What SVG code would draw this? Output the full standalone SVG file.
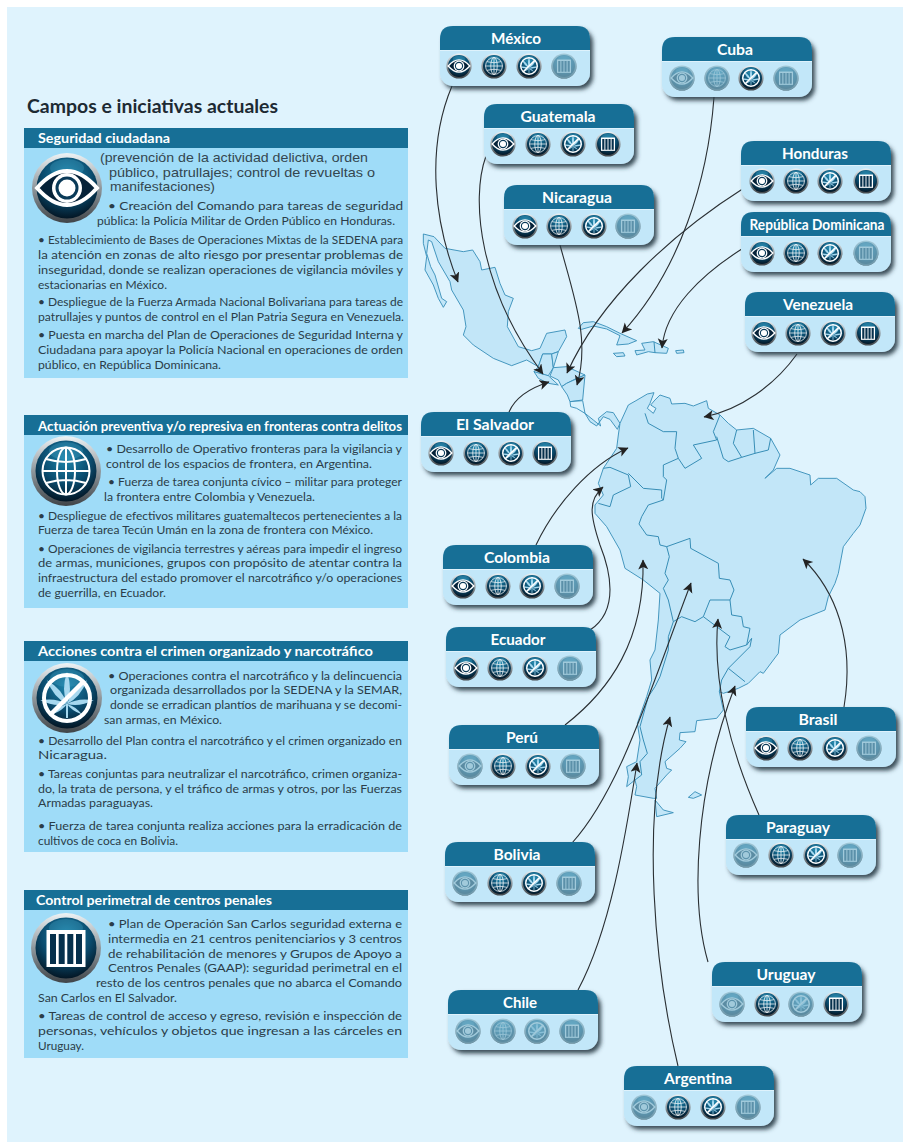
<svg xmlns="http://www.w3.org/2000/svg" width="903" height="1142" viewBox="0 0 903 1142">
<style>
text{font-family:Lato,"Open Sans","Liberation Sans",sans-serif}
.b{font-size:12px;fill:#2b3d48}
.l{font-size:12.8px;fill:#34464f;font-family:"Liberation Sans",Arial,sans-serif}
.h{font-size:13.5px;font-weight:700;fill:#fff}
.n{font-size:15.5px;font-weight:700;fill:#fff;text-anchor:middle}
.land{fill:#c2e6f8;stroke:#3a90ba;stroke-width:2.8;stroke-linejoin:round}
.bd{fill:none;stroke:#2c86b0;stroke-width:2.8;stroke-linejoin:round}
.c{fill:none;stroke:#2a2f33;stroke-width:1.1;marker-end:url(#arr)}
.panel{fill:#9fdcf8}
.bar{fill:#176f96}
</style>
<defs>
<linearGradient id="ring" x1="0" y1="0" x2="0" y2="1"><stop offset="0" stop-color="#eef3f5"/><stop offset=".5" stop-color="#8f979c"/><stop offset="1" stop-color="#3f4448"/></linearGradient>
<radialGradient id="core" cx=".5" cy=".3" r=".75"><stop offset="0" stop-color="#1e86ad"/><stop offset=".55" stop-color="#0a4a6c"/><stop offset="1" stop-color="#020d18"/></radialGradient>
<filter id="sh" x="-10%" y="-15%" width="125%" height="140%"><feDropShadow dx="3" dy="3.5" stdDeviation="2" flood-color="#2b3a44" flood-opacity=".9"/></filter>
<marker id="arr" markerUnits="userSpaceOnUse" markerWidth="12" markerHeight="11" refX="9.5" refY="5" orient="auto"><path d="M0,0 L10,5 L0,10 L2.5,5Z" fill="#222"/></marker>
<g id="ball"><circle r="35" fill="url(#ring)"/><circle r="30.5" fill="url(#core)"/><ellipse cy="-20" rx="17" ry="9" fill="#3f9dc0" opacity=".35"/></g>
<g id="eye"><use href="#ball"/><path d="M-30,0Q0,-34 30,0Q0,34 -30,0Z" fill="#062238" stroke="#fff" stroke-width="4"/><circle r="15" fill="#fff"/><circle r="11.5" fill="#0a3a58"/><circle r="8.5" fill="#fff"/></g>
<g id="globe"><use href="#ball"/><g fill="none" stroke="#fff" stroke-width="2"><circle r="23.5"/><ellipse rx="9" ry="23.5"/><path d="M0,-23.5V23.5M-23.5,0H23.5M-20,-12Q0,-6 20,-12M-20,12Q0,6 20,12"/></g></g>
<g id="leaf"><use href="#ball"/><g fill="#a6d8ef"><path d="M0,6Q-6,-8 0,-26Q6,-8 0,6Z"/><path d="M0,6Q-6,-8 0,-25Q6,-8 0,6Z" transform="rotate(40 0 6)"/><path d="M0,6Q-6,-8 0,-25Q6,-8 0,6Z" transform="rotate(-40 0 6)"/><path d="M0,6Q-5,-6 0,-21Q5,-6 0,6Z" transform="rotate(82 0 6)"/><path d="M0,6Q-5,-6 0,-21Q5,-6 0,6Z" transform="rotate(-82 0 6)"/><path d="M0,6Q-3,-2 0,-12Q3,-2 0,6Z" transform="rotate(125 0 6)"/><path d="M0,6Q-3,-2 0,-12Q3,-2 0,6Z" transform="rotate(-125 0 6)"/><rect x="-1" y="6" width="2" height="14"/></g><circle r="23" fill="none" stroke="#fff" stroke-width="4"/><path d="M-16,16L16,-16" stroke="#fff" stroke-width="4.5"/></g>
<g id="bars"><use href="#ball"/><rect x="-19.5" y="-18" width="39" height="37" fill="#fff"/><path d="M-13,-14V16M-4.3,-14V16M4.3,-14V16M13,-14V16" stroke="#06304c" stroke-width="6"/></g>
<g id="eye0"><use href="#eye"/><circle r="35" fill="#7db5cd" opacity=".72"/></g>
<g id="globe0"><use href="#globe"/><circle r="35" fill="#7db5cd" opacity=".72"/></g>
<g id="leaf0"><use href="#leaf"/><circle r="35" fill="#7db5cd" opacity=".72"/></g>
<g id="bars0"><use href="#bars"/><circle r="35" fill="#7db5cd" opacity=".72"/></g>
<g id="card"><rect width="150" height="60" rx="13" fill="#c2e7f9" filter="url(#sh)"/><path d="M0,24V13Q0,0 13,0H137Q150,0 150,13V24Z" fill="#176f96"/><path d="M0,24.5H150" stroke="#e4f5fc" stroke-width=".8"/></g>
</defs>
<rect width="903" height="1142" fill="#fff"/>
<rect x="7" y="7" width="896" height="1135" fill="#dff3fd"/>

<g id="map">
<g transform="translate(410 220) scale(.33333)">
<path class="land" d="M40,42L72,50L105,85L160,95L188,90L210,125L215,150L255,142L270,190L285,225L310,235L295,275L292,320L325,380L365,392L390,385L410,340L465,330L470,350L445,395L425,402L398,402L385,440L350,420L305,437L250,415L190,375L160,345L168,320L160,270L125,210L120,185L85,125L65,65L55,60L50,100L62,140L75,165L95,235L110,245L100,262L85,235L70,195L45,150L50,110L40,70Z"/>
<path class="land" d="M398,402L425,402L430,443L415,467L385,462L372,455L385,440Z"/>
<path class="land" d="M425,402L445,395L430,443Z"/>
<path class="land" d="M372,455L415,467L445,495L415,490L385,475Z"/>
<path class="land" d="M430,443L470,440L525,465L500,475L470,490L455,500L445,480L420,468Z"/>
<path class="land" d="M455,500L470,490L525,465L518,540L480,545L472,525Z"/>
<path fill="#d8f2fd" stroke="#3a90ba" stroke-width="2.8" d="M480,545L518,542L525,580L500,565L482,560Z"/>
<path class="land" d="M525,580L550,600L572,618L565,595L590,575L610,578L630,610L622,628L600,598L580,590L560,618L540,605Z"/>
<path class="land" d="M505,325L520,308L550,305L590,320L630,340L680,362L655,372L620,375L630,347L590,327L550,318L515,328Z"/>
<path class="land" d="M610,400L640,398L645,408L620,410Z"/>
<path class="land" d="M695,370L730,365L775,385L770,400L735,398L715,395L680,405L675,392L705,390Z"/>
<path class="bd" d="M732,365L735,398"/>
<path class="land" d="M797,392L820,390L822,398L800,400Z"/>
</g>
<g transform="translate(560 380) scale(.33333)">
<path class="land" d="M180,130L205,75L228,62L262,42L282,38L270,70L262,85L280,100L288,85L272,75L285,60L300,45L330,55L335,72L375,70L400,78L440,62L445,85L480,105L505,130L530,150L580,145L632,175L660,225L640,270L615,295L650,265L690,265L750,285L752,315L775,295L830,295L880,330L900,335L915,350L918,385L900,435L880,460L850,500L835,580L825,610L805,650L795,690L720,720L660,765L655,820L610,880L600,875L565,910L535,925L490,940L478,935L490,990L470,1015L410,1022L405,1055L360,1058L358,1080L378,1085L360,1105L315,1145L320,1165L335,1170L320,1185L285,1225L290,1255L280,1255L225,1245L230,1220L225,1200L200,1220L205,1190L200,1160L230,1145L240,1080L232,1030L260,950L275,900L270,840L285,810L295,720L300,640L250,600L195,565L180,510L140,440L105,400L105,375L130,345L115,310L130,265L170,205L175,165Z"/>
<path class="land" d="M285,1260L290,1310L340,1298L310,1290Z"/>
<path class="land" d="M385,1252L405,1235L425,1245L400,1255Z"/>
<path class="bd" d="M255,100L265,130L310,155L350,155L345,205L355,235L310,255L310,290L320,300L310,360M355,235L375,265L425,235L400,195L470,180L460,155L480,105M470,170L490,235L505,245L545,232L520,190L530,150M545,232L585,220L580,150M585,220L625,210L632,175"/>
<path class="bd" d="M130,265L150,262L205,285L212,320L160,345L150,380L115,370"/>
<path class="bd" d="M205,280L250,325L305,330L305,355L310,360L265,375L245,410L237,432L260,465L295,470L300,495L320,500L390,475L392,505L475,550L478,595L510,600L522,630L510,660L450,660L430,710L405,725L365,710L340,725M320,500L328,530L315,580L325,600L310,625L325,660L340,725L325,770L325,810L300,890L285,920L265,950L240,1040L250,1080L262,1120L240,1145L245,1185L225,1200"/>
<path class="bd" d="M430,710L470,740L510,770L495,800L510,810L560,795L570,745L550,740L545,710L515,705L510,660"/>
<path class="bd" d="M560,795L575,775L570,800L515,855L505,865L555,905M505,865L485,900L478,935"/>
</g>
</g>

<g id="connectors">
<path class="c" d="M452,86C425,150 435,225 458,282"/>
<path class="c" d="M486,156C470,200 480,290 543,374"/>
<path class="c" d="M714,97C708,180 680,270 622,333"/>
<path class="c" d="M744,188C670,235 600,300 567,373"/>
<path class="c" d="M560,245C575,300 590,340 577,385"/>
<path class="c" d="M745,247C700,275 665,310 662,348"/>
<path class="c" d="M797,354C775,385 740,410 704,417"/>
<path class="c" d="M509,412C515,398 530,388 549,382"/>
<path class="c" d="M536,545C555,505 590,465 628,448"/>
<path class="c" d="M590,630C620,610 610,570 600,545C590,515 588,500 603,487"/>
<path class="c" d="M565,725C610,690 645,640 643,560"/>
<path class="c" d="M572,843C620,790 650,690 691,583"/>
<path class="c" d="M759,815C730,750 712,680 718,619"/>
<path class="c" d="M844,707C855,640 835,590 803,559"/>
<path class="c" d="M708,962C690,900 695,790 735,686"/>
<path class="c" d="M578,990C610,930 625,840 637,763"/>
<path class="c" d="M678,1066C655,970 640,820 670,717"/>
</g>

<g id="heading"><text x="27" y="113" font-size="18" font-weight="700" fill="#1d2a33" textLength="251" lengthAdjust="spacingAndGlyphs">Campos e iniciativas actuales</text></g>

<g id="panel-seguridad">
<rect class="panel" x="24" y="128" width="384" height="250"/><rect class="bar" x="24" y="128" width="384" height="20"/>
<text class="h" x="38" y="143" textLength="132" lengthAdjust="spacingAndGlyphs">Seguridad ciudadana</text>
<use href="#eye" transform="translate(67 188)"/>
<text class="l" x="100" y="162" textLength="268" lengthAdjust="spacingAndGlyphs">(prevención de la actividad delictiva, orden</text>
<text class="l" x="109" y="177" textLength="266" lengthAdjust="spacingAndGlyphs">público, patrullajes; control de  revueltas o</text>
<text class="l" x="110" y="191" textLength="105" lengthAdjust="spacingAndGlyphs">manifestaciones)</text>
<text class="b" x="108" y="210" textLength="295" lengthAdjust="spacingAndGlyphs">• Creación del Comando para tareas de seguridad</text>
<text class="b" x="97" y="225" textLength="298" lengthAdjust="spacingAndGlyphs">pública: la Policía Militar de Orden Público en Honduras.</text>
<text class="b" x="38" y="244" textLength="365" lengthAdjust="spacingAndGlyphs">• Establecimiento de Bases de Operaciones Mixtas de la SEDENA para</text>
<text class="b" x="38" y="259" textLength="365" lengthAdjust="spacingAndGlyphs">la atención en zonas de alto riesgo por presentar problemas de</text>
<text class="b" x="38" y="274" textLength="365" lengthAdjust="spacingAndGlyphs">inseguridad, donde se realizan operaciones de vigilancia móviles y</text>
<text class="b" x="38" y="289" textLength="129" lengthAdjust="spacingAndGlyphs">estacionarias en México.</text>
<text class="b" x="38" y="306" textLength="365" lengthAdjust="spacingAndGlyphs">• Despliegue de la Fuerza Armada Nacional Bolivariana para tareas de</text>
<text class="b" x="38" y="321" textLength="366" lengthAdjust="spacingAndGlyphs">patrullajes y puntos de control en el Plan Patria Segura en Venezuela.</text>
<text class="b" x="38" y="339" textLength="365" lengthAdjust="spacingAndGlyphs">• Puesta en marcha del Plan de Operaciones de Seguridad Interna y</text>
<text class="b" x="38" y="354" textLength="365" lengthAdjust="spacingAndGlyphs">Ciudadana para apoyar la Policía Nacional en operaciones de orden</text>
<text class="b" x="38" y="369" textLength="183" lengthAdjust="spacingAndGlyphs">público, en República Dominicana.</text>
</g>

<g id="panel-fronteras">
<rect class="panel" x="24" y="415" width="384" height="193"/><rect class="bar" x="24" y="415" width="384" height="20"/>
<text class="h" x="38" y="431" textLength="364" lengthAdjust="spacingAndGlyphs">Actuación preventiva y/o represiva en fronteras contra delitos</text>
<use href="#globe" transform="translate(66 471)"/>
<text class="b" x="106" y="453" textLength="296" lengthAdjust="spacingAndGlyphs">• Desarrollo de Operativo fronteras para la vigilancia y</text>
<text class="b" x="106" y="468" textLength="266" lengthAdjust="spacingAndGlyphs">control de los espacios de frontera, en Argentina.</text>
<text class="b" x="108" y="486" textLength="294" lengthAdjust="spacingAndGlyphs">• Fuerza de tarea conjunta cívico – militar para proteger</text>
<text class="b" x="104" y="501" textLength="211" lengthAdjust="spacingAndGlyphs">la frontera entre Colombia y Venezuela.</text>
<text class="b" x="38" y="520" textLength="364" lengthAdjust="spacingAndGlyphs">• Despliegue de efectivos militares guatemaltecos pertenecientes a la</text>
<text class="b" x="38" y="534" textLength="335" lengthAdjust="spacingAndGlyphs">Fuerza de tarea Tecún Umán en la zona de frontera con México.</text>
<text class="b" x="38" y="553" textLength="364" lengthAdjust="spacingAndGlyphs">• Operaciones de vigilancia terrestres y aéreas para impedir el ingreso</text>
<text class="b" x="38" y="567" textLength="364" lengthAdjust="spacingAndGlyphs">de armas, municiones, grupos con propósito de atentar contra la</text>
<text class="b" x="38" y="582" textLength="364" lengthAdjust="spacingAndGlyphs">infraestructura del estado promover el narcotráfico y/o operaciones</text>
<text class="b" x="38" y="597" textLength="128" lengthAdjust="spacingAndGlyphs">de guerrilla, en Ecuador.</text>
</g>

<g id="panel-crimen">
<rect class="panel" x="24" y="641" width="384" height="211"/><rect class="bar" x="24" y="641" width="384" height="20"/>
<text class="h" x="38" y="656" textLength="335" lengthAdjust="spacingAndGlyphs">Acciones contra el crimen organizado y narcotráfico</text>
<use href="#leaf" transform="translate(67 698)"/>
<text class="b" x="108" y="680" textLength="294" lengthAdjust="spacingAndGlyphs">• Operaciones contra el narcotráfico y la delincuencia</text>
<text class="b" x="110" y="694" textLength="292" lengthAdjust="spacingAndGlyphs">organizada desarrollados por la SEDENA y la SEMAR,</text>
<text class="b" x="110" y="709" textLength="292" lengthAdjust="spacingAndGlyphs">donde se erradican plantíos de marihuana y se decomi-</text>
<text class="b" x="104" y="724" textLength="118" lengthAdjust="spacingAndGlyphs">san armas, en México.</text>
<text class="b" x="38" y="745" textLength="364" lengthAdjust="spacingAndGlyphs">• Desarrollo del Plan contra el narcotráfico y el crimen organizado en</text>
<text class="b" x="38" y="759" textLength="69" lengthAdjust="spacingAndGlyphs">Nicaragua.</text>
<text class="b" x="38" y="778" textLength="364" lengthAdjust="spacingAndGlyphs">• Tareas conjuntas para neutralizar el narcotráfico, crimen organiza-</text>
<text class="b" x="38" y="793" textLength="364" lengthAdjust="spacingAndGlyphs">do, la trata de persona, y el tráfico de armas y otros, por las Fuerzas</text>
<text class="b" x="38" y="807" textLength="115" lengthAdjust="spacingAndGlyphs">Armadas paraguayas.</text>
<text class="b" x="38" y="830" textLength="364" lengthAdjust="spacingAndGlyphs">• Fuerza de tarea conjunta realiza acciones para la erradicación de</text>
<text class="b" x="38" y="845" textLength="140" lengthAdjust="spacingAndGlyphs">cultivos de coca en Bolivia.</text>
</g>

<g id="panel-penales">
<rect class="panel" x="24" y="890" width="384" height="168"/><rect class="bar" x="24" y="890" width="384" height="20"/>
<text class="h" x="36" y="905" textLength="236" lengthAdjust="spacingAndGlyphs">Control perimetral de centros penales</text>
<use href="#bars" transform="translate(66 948)"/>
<text class="b" x="108" y="928" textLength="294" lengthAdjust="spacingAndGlyphs">• Plan de Operación San Carlos seguridad externa e</text>
<text class="b" x="108" y="943" textLength="294" lengthAdjust="spacingAndGlyphs">intermedia en 21 centros penitenciarios y 3 centros</text>
<text class="b" x="108" y="958" textLength="294" lengthAdjust="spacingAndGlyphs">de rehabilitación de menores y Grupos de Apoyo a</text>
<text class="b" x="108" y="972" textLength="294" lengthAdjust="spacingAndGlyphs">Centros Penales (GAAP): seguridad perimetral en el</text>
<text class="b" x="96" y="987" textLength="306" lengthAdjust="spacingAndGlyphs">resto de los centros penales que no abarca el Comando</text>
<text class="b" x="38" y="1002" textLength="139" lengthAdjust="spacingAndGlyphs">San Carlos en El Salvador.</text>
<text class="b" x="38" y="1020" textLength="364" lengthAdjust="spacingAndGlyphs">• Tareas de control de acceso y egreso, revisión e inspección de</text>
<text class="b" x="38" y="1035" textLength="364" lengthAdjust="spacingAndGlyphs">personas, vehículos y objetos que ingresan a las cárceles en</text>
<text class="b" x="38" y="1050" textLength="46" lengthAdjust="spacingAndGlyphs">Uruguay.</text>
</g>

<g id="mexico"><use href="#card" x="440" y="26"/><text class="n" x="516" y="44" textLength="50" lengthAdjust="spacingAndGlyphs">México</text>
<use href="#eye" transform="translate(459 66) scale(.36)"/><use href="#globe" transform="translate(494 66) scale(.36)"/><use href="#leaf" transform="translate(529 66) scale(.36)"/><use href="#bars0" transform="translate(564 66) scale(.36)"/></g>
<g id="cuba"><use href="#card" x="662" y="37"/><text class="n" x="735" y="55" textLength="36" lengthAdjust="spacingAndGlyphs">Cuba</text>
<use href="#eye0" transform="translate(682 78) scale(.36)"/><use href="#globe0" transform="translate(717 78) scale(.36)"/><use href="#leaf" transform="translate(751 78) scale(.36)"/><use href="#bars0" transform="translate(786 78) scale(.36)"/></g>
<g id="guatemala"><use href="#card" x="484" y="104"/><text class="n" x="558" y="122" textLength="75" lengthAdjust="spacingAndGlyphs">Guatemala</text>
<use href="#eye" transform="translate(503 144) scale(.36)"/><use href="#globe" transform="translate(538 144) scale(.36)"/><use href="#leaf" transform="translate(573 144) scale(.36)"/><use href="#bars" transform="translate(608 144) scale(.36)"/></g>
<g id="honduras"><use href="#card" x="741" y="141"/><text class="n" x="815" y="159" textLength="66" lengthAdjust="spacingAndGlyphs">Honduras</text>
<use href="#eye" transform="translate(762 181) scale(.36)"/><use href="#globe" transform="translate(796 181) scale(.36)"/><use href="#leaf" transform="translate(830 181) scale(.36)"/><use href="#bars" transform="translate(866 181) scale(.36)"/></g>
<g id="nicaragua"><use href="#card" x="504" y="185"/><text class="n" x="577" y="203" textLength="70" lengthAdjust="spacingAndGlyphs">Nicaragua</text>
<use href="#eye" transform="translate(525 226) scale(.36)"/><use href="#globe" transform="translate(559 226) scale(.36)"/><use href="#leaf" transform="translate(594 226) scale(.36)"/><use href="#bars0" transform="translate(628 226) scale(.36)"/></g>
<g id="republica-dominicana"><use href="#card" x="741" y="212"/><text class="n" x="817" y="230" textLength="135" lengthAdjust="spacingAndGlyphs">República Dominicana</text>
<use href="#eye" transform="translate(762 253) scale(.36)"/><use href="#globe" transform="translate(796 253) scale(.36)"/><use href="#leaf" transform="translate(830 253) scale(.36)"/><use href="#bars0" transform="translate(866 253) scale(.36)"/></g>
<g id="venezuela"><use href="#card" x="745" y="292"/><text class="n" x="818" y="310" textLength="70" lengthAdjust="spacingAndGlyphs">Venezuela</text>
<use href="#eye" transform="translate(764 333) scale(.36)"/><use href="#globe" transform="translate(798 333) scale(.36)"/><use href="#leaf" transform="translate(833 333) scale(.36)"/><use href="#bars" transform="translate(868 333) scale(.36)"/></g>
<g id="el-salvador"><use href="#card" x="421" y="412"/><text class="n" x="495" y="430" textLength="78" lengthAdjust="spacingAndGlyphs">El Salvador</text>
<use href="#eye" transform="translate(441 453) scale(.36)"/><use href="#globe" transform="translate(476 453) scale(.36)"/><use href="#leaf" transform="translate(511 453) scale(.36)"/><use href="#bars" transform="translate(545 453) scale(.36)"/></g>
<g id="colombia"><use href="#card" x="443" y="545"/><text class="n" x="517" y="563" textLength="66" lengthAdjust="spacingAndGlyphs">Colombia</text>
<use href="#eye" transform="translate(463 586) scale(.36)"/><use href="#globe" transform="translate(498 586) scale(.36)"/><use href="#leaf" transform="translate(532 586) scale(.36)"/><use href="#bars0" transform="translate(567 586) scale(.36)"/></g>
<g id="ecuador"><use href="#card" x="446" y="627"/><text class="n" x="518" y="645" textLength="55" lengthAdjust="spacingAndGlyphs">Ecuador</text>
<use href="#eye" transform="translate(466 668) scale(.36)"/><use href="#globe" transform="translate(500 668) scale(.36)"/><use href="#leaf" transform="translate(535 668) scale(.36)"/><use href="#bars0" transform="translate(570 668) scale(.36)"/></g>
<g id="peru"><use href="#card" x="449" y="725"/><text class="n" x="522" y="743" textLength="32" lengthAdjust="spacingAndGlyphs">Perú</text>
<use href="#eye0" transform="translate(470 766) scale(.36)"/><use href="#globe" transform="translate(503 766) scale(.36)"/><use href="#leaf" transform="translate(538 766) scale(.36)"/><use href="#bars0" transform="translate(573 766) scale(.36)"/></g>
<g id="bolivia"><use href="#card" x="445" y="842"/><text class="n" x="517" y="860" textLength="47" lengthAdjust="spacingAndGlyphs">Bolivia</text>
<use href="#eye0" transform="translate(465 883) scale(.36)"/><use href="#globe" transform="translate(500 883) scale(.36)"/><use href="#leaf" transform="translate(534 883) scale(.36)"/><use href="#bars0" transform="translate(569 883) scale(.36)"/></g>
<g id="brasil"><use href="#card" x="746" y="707"/><text class="n" x="818" y="725" textLength="39" lengthAdjust="spacingAndGlyphs">Brasil</text>
<use href="#eye" transform="translate(766 748) scale(.36)"/><use href="#globe" transform="translate(800 748) scale(.36)"/><use href="#leaf" transform="translate(835 748) scale(.36)"/><use href="#bars0" transform="translate(869 748) scale(.36)"/></g>
<g id="paraguay"><use href="#card" x="726" y="815"/><text class="n" x="798" y="833" textLength="64" lengthAdjust="spacingAndGlyphs">Paraguay</text>
<use href="#eye0" transform="translate(746 855) scale(.36)"/><use href="#globe" transform="translate(781 855) scale(.36)"/><use href="#leaf" transform="translate(816 855) scale(.36)"/><use href="#bars0" transform="translate(850 855) scale(.36)"/></g>
<g id="uruguay"><use href="#card" x="712" y="962"/><text class="n" x="786" y="980" textLength="59" lengthAdjust="spacingAndGlyphs">Uruguay</text>
<use href="#eye0" transform="translate(732 1004) scale(.36)"/><use href="#globe" transform="translate(767 1004) scale(.36)"/><use href="#leaf0" transform="translate(801 1004) scale(.36)"/><use href="#bars" transform="translate(836 1004) scale(.36)"/></g>
<g id="chile"><use href="#card" x="448" y="990"/><text class="n" x="520" y="1008" textLength="34" lengthAdjust="spacingAndGlyphs">Chile</text>
<use href="#eye0" transform="translate(468 1031) scale(.36)"/><use href="#globe0" transform="translate(503 1031) scale(.36)"/><use href="#leaf0" transform="translate(537 1031) scale(.36)"/><use href="#bars0" transform="translate(572 1031) scale(.36)"/></g>
<g id="argentina"><use href="#card" x="624" y="1066"/><text class="n" x="698" y="1084" textLength="68" lengthAdjust="spacingAndGlyphs">Argentina</text>
<use href="#eye0" transform="translate(644 1107) scale(.36)"/><use href="#globe" transform="translate(678 1107) scale(.36)"/><use href="#leaf" transform="translate(713 1107) scale(.36)"/><use href="#bars0" transform="translate(748 1107) scale(.36)"/></g>
</svg>
